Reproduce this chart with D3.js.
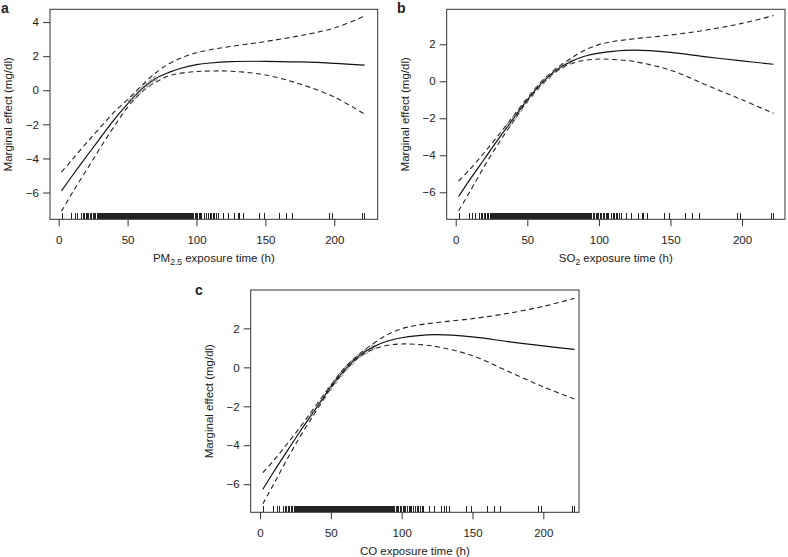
<!DOCTYPE html>
<html>
<head>
<meta charset="utf-8">
<script src="https://cdn.jsdelivr.net/npm/d3@7"></script>
<style>
  body { margin: 0; background: #fff; }
  text { font-family: "Liberation Sans", Arial, Helvetica, sans-serif; fill: #222; }
</style>
</head>
<body>
<div id="chart"></div>
<script>
// exposure time grid (h) where the curves were read
var hours = [2, 10, 20, 30, 40, 50, 60, 70, 80, 90, 100, 110, 125, 150, 175, 200, 222];

// panel a: PM2.5
var pmFit   = [-5.9, -5.0, -3.9, -2.82, -1.75, -0.8, 0.05, 0.68, 1.05, 1.32, 1.5, 1.6, 1.68, 1.7, 1.66, 1.58, 1.47];
var pmUpper = [-4.8, -4.05, -3.1, -2.2, -1.3, -0.55, 0.25, 1.0, 1.55, 1.93, 2.2, 2.38, 2.57, 2.86, 3.2, 3.65, 4.35];
var pmLower = [-7.1, -6.0, -4.7, -3.4, -2.15, -1.0, -0.12, 0.45, 0.85, 1.02, 1.1, 1.13, 1.12, 0.9, 0.37, -0.4, -1.4];
var pmKnots = [52, 55, 58, 61, 64, 67, 70];

// panel b: SO2
var so2Fit   = [-6.23, -5.3, -4.2, -3.1, -2.05, -1.0, -0.1, 0.6, 1.05, 1.35, 1.52, 1.62, 1.68, 1.56, 1.32, 1.1, 0.92];
var so2Upper = [-5.39, -4.75, -3.85, -2.9, -1.9, -0.92, 0.0, 0.68, 1.22, 1.68, 1.98, 2.15, 2.3, 2.5, 2.77, 3.13, 3.55];
var so2Lower = [-7.0, -5.95, -4.6, -3.35, -2.2, -1.08, -0.18, 0.52, 0.93, 1.13, 1.2, 1.18, 1.06, 0.6, -0.2, -1.0, -1.73];
var so2Knots = [37, 41, 45, 49, 53, 57, 61, 65, 70, 75, 80];

// panel c: CO
var coFit   = [-6.26, -5.32, -4.2, -3.1, -2.05, -1.0, -0.1, 0.6, 1.05, 1.35, 1.52, 1.62, 1.68, 1.56, 1.32, 1.1, 0.92];
var coUpper = [-5.4, -4.75, -3.85, -2.9, -1.9, -0.92, 0.0, 0.68, 1.22, 1.68, 1.98, 2.15, 2.3, 2.5, 2.77, 3.13, 3.54];
var coLower = [-7.0, -5.95, -4.6, -3.35, -2.2, -1.08, -0.18, 0.52, 0.93, 1.13, 1.2, 1.18, 1.06, 0.6, -0.2, -1.0, -1.62];
var coKnots = [37, 41, 45, 49, 53, 57, 61, 65, 70, 75, 80];

// observed exposure times for the rug
var exposureHours = [2.5, 9.5, 12, 14, 16.5, 18, 19, 20, 21, 22, 23, 24, 25, 26, 26.5, 27, 28, 28.5, 29, 29.5, 30, 30.5, 31, 31.5,
  32, 32.5, 33, 33.5, 34, 34.5, 35, 35.5, 36, 36.5, 37, 37.5, 38, 38.5, 39, 39.5, 40, 40.5, 41, 41.5, 42, 42.5, 43, 43.5,
  44, 44.5, 45, 45.5, 46, 46.5, 47, 47.5, 48, 48.5, 49, 49.5, 50, 50.5, 51, 51.5, 52, 52.5, 53, 53.5, 54, 54.5, 55, 55.5,
  56, 56.5, 57, 57.5, 58, 58.5, 59, 59.5, 60, 60.5, 61, 61.5, 62, 62.5, 63, 63.5, 64, 64.5, 65, 65.5, 66, 66.5, 67, 67.5,
  68, 68.5, 69, 69.5, 70, 70.5, 71, 71.5, 72, 72.5, 73, 73.5, 74, 74.5, 75, 75.5, 76, 76.5, 77, 77.5, 78, 78.5, 79, 79.5,
  80, 80.5, 81, 81.5, 82, 82.5, 83, 83.5, 84, 84.5, 85, 85.5, 86, 86.5, 87, 87.5, 88, 88.5, 89, 89.5, 90,
  90.5, 91, 91.5, 92, 93, 93.5, 94, 95, 96, 96.5, 97, 98, 99, 100, 101, 102, 103, 104, 105.5, 106, 107, 108.5, 110,
  111, 112, 113.3, 114.5, 115.7, 119.3, 122.9, 127.8, 130.2, 131.4, 133.8, 145.9, 149.5, 160.4, 165.2, 170,
  196.6, 199, 220.7, 222];

var xTicks = [0, 50, 100, 150, 200];

var svg = d3.select("#chart")
  .append("svg")
  .attr("width", 788)
  .attr("height", 557);

function drawPanel(p) {
  var x = d3.scaleLinear().domain(p.xDomain).range([p.left, p.right]);
  var y = d3.scaleLinear().domain(p.yDomain).range([p.bottom, p.top]);
  var g = svg.append("g");

  // x axis
  g.append("g")
    .attr("transform", "translate(0," + p.bottom + ")")
    .call(d3.axisBottom(x).tickValues(xTicks).tickSize(7).tickPadding(9.5).tickSizeOuter(0))
    .call(function(a) { a.select(".domain").remove(); })
    .selectAll("text").style("font-size", "11.5px");

  // y axis
  g.append("g")
    .attr("transform", "translate(" + p.left + ",0)")
    .call(d3.axisLeft(y).tickValues(p.yTicks).tickSize(7).tickPadding(4).tickSizeOuter(0))
    .call(function(a) { a.select(".domain").remove(); })
    .selectAll("text").style("font-size", "11.5px");

  g.selectAll(".tick line").attr("stroke", "#333");

  // rug
  g.selectAll(".rug")
    .data(exposureHours)
    .enter()
    .append("line")
      .attr("class", "rug")
      .attr("x1", function(d) { return x(d); })
      .attr("x2", function(d) { return x(d); })
      .attr("y1", p.bottom)
      .attr("y2", p.bottom - 6.5)
      .attr("stroke", "#222")
      .attr("stroke-width", 1)
      .attr("shape-rendering", "crispEdges");

  var line = d3.line()
    .x(function(d) { return x(d[0]); })
    .y(function(d) { return y(d[1]); })
    .curve(d3.curveCatmullRom);

  function series(vals) { return hours.map(function(h, i) { return [h, vals[i]]; }); }

  g.append("path").datum(series(p.upper))
    .attr("d", line).attr("fill", "none").attr("stroke", "#222")
    .attr("stroke-width", 1.1).attr("stroke-dasharray", "5,3.5");
  g.append("path").datum(series(p.lower))
    .attr("d", line).attr("fill", "none").attr("stroke", "#222")
    .attr("stroke-width", 1.1).attr("stroke-dasharray", "5,3.5");
  g.append("path").datum(series(p.fit))
    .attr("d", line).attr("fill", "none").attr("stroke", "#111")
    .attr("stroke-width", 1.2);

  // small knot circles on the fitted curve
  var fitAt = d3.scaleLinear().domain(hours).range(p.fit);
  g.selectAll(".knot")
    .data(p.knots)
    .enter()
    .append("circle")
      .attr("class", "knot")
      .attr("cx", function(d) { return x(d); })
      .attr("cy", function(d) { return y(fitAt(d)); })
      .attr("r", 2)
      .attr("fill", "none")
      .attr("stroke", "#777")
      .attr("stroke-width", 0.8);

  // frame
  g.append("rect")
    .attr("x", p.left).attr("y", p.top)
    .attr("width", p.right - p.left).attr("height", p.bottom - p.top)
    .attr("fill", "none").attr("stroke", "#333").attr("stroke-width", 1);

  // x title
  var xt = g.append("text")
    .attr("text-anchor", "middle")
    .attr("x", (p.left + p.right) / 2)
    .attr("y", p.bottom + 42.5)
    .style("font-size", "11.5px");
  xt.append("tspan").text(p.xLabel[0]);
  if (p.xLabel[1]) {
    xt.append("tspan").text(p.xLabel[1]).attr("dy", 3).style("font-size", "8.5px");
    xt.append("tspan").text(p.xLabel[2]).attr("dy", -3);
  }

  // y title
  g.append("text")
    .attr("text-anchor", "middle")
    .attr("transform", "translate(" + (p.left - 38) + "," + ((p.top + p.bottom) / 2) + ")rotate(-90)")
    .style("font-size", "11.5px")
    .text("Marginal effect (mg/dl)");

  // panel letter
  g.append("text")
    .attr("x", p.tagX).attr("y", p.tagY)
    .style("font-size", "14px").style("font-weight", "bold")
    .text(p.tag);
}

drawPanel({
  tag: "a", tagX: 1, tagY: 13,
  left: 50, right: 377.7, top: 9.3, bottom: 219.3,
  xDomain: [-6.3, 231.5], yDomain: [-7.57, 4.75],
  yTicks: [-6, -4, -2, 0, 2, 4],
  fit: pmFit, upper: pmUpper, lower: pmLower, knots: pmKnots,
  xLabel: ["PM", "2.5", " exposure time (h)"]
});

drawPanel({
  tag: "b", tagX: 397, tagY: 13,
  left: 446.7, right: 785, top: 9.3, bottom: 219.3,
  xDomain: [-6.3, 230], yDomain: [-7.46, 3.89],
  yTicks: [-6, -4, -2, 0, 2],
  fit: so2Fit, upper: so2Upper, lower: so2Lower, knots: so2Knots,
  xLabel: ["SO", "2", " exposure time (h)"]
});

drawPanel({
  tag: "c", tagX: 195, tagY: 295,
  left: 250.7, right: 579, top: 290, bottom: 512.3,
  xDomain: [-6.6, 225.2], yDomain: [-7.44, 3.97],
  yTicks: [-6, -4, -2, 0, 2],
  fit: coFit, upper: coUpper, lower: coLower, knots: coKnots,
  xLabel: ["CO exposure time (h)"]
});
</script>
</body>
</html>
